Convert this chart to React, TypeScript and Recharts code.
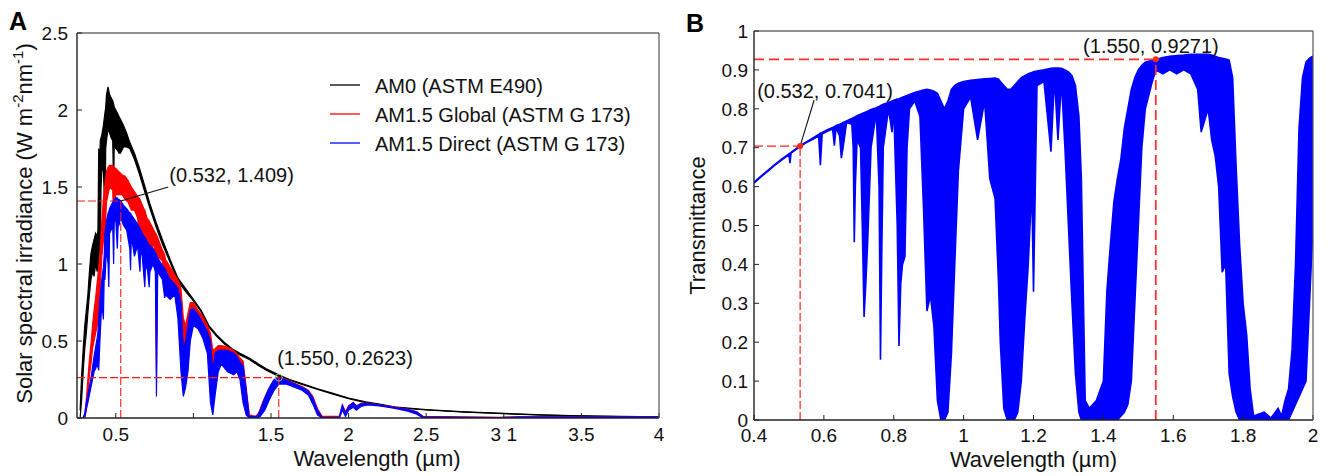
import React from 'react';
import {
  ComposedChart,
  Area,
  XAxis,
  YAxis,
  ReferenceLine,
  ReferenceDot,
  Legend,
} from 'recharts';

const FONT = '"Liberation Sans", Arial, Helvetica, sans-serif';

// ---------------- Panel A: solar spectra ----------------
const aXTicks = [0.5, 1, 1.5, 2, 2.5, 3, 3.5, 4];
const aXLabels = ['0.5', '', '1.5', '2', '2.5', '3 1', '3.5', '4'];
const aYTicks = [0, 0.5, 1, 1.5, 2, 2.5];
const aYLabels = ['0', '0.5', '1', '1.5', '2', '2.5'];

const am0Wl = [0.27, 0.28, 0.29, 0.3, 0.31, 0.32, 0.33, 0.34, 0.35, 0.36, 0.37, 0.38, 0.385, 0.39, 0.395, 0.4, 0.405, 0.41, 0.42, 0.43, 0.435, 0.44, 0.45, 0.46, 0.47, 0.48, 0.486, 0.49, 0.5, 0.51, 0.52, 0.53, 0.55, 0.57, 0.59, 0.62, 0.65, 0.68, 0.72, 0.76, 0.8, 0.85, 0.9, 0.95, 1.0, 1.05, 1.1, 1.15, 1.2, 1.25, 1.3, 1.36, 1.42, 1.47, 1.55, 1.62, 1.68, 1.8, 1.9, 2.0, 2.11, 2.2, 2.31, 2.5, 2.75, 3.0, 3.25, 3.5, 3.75, 4.0];
const am0Hi = [0.05, 0.28, 0.45, 0.6, 0.7, 0.8, 0.95, 1.07, 1.12, 1.16, 1.2, 1.18, 1.22, 1.75, 1.6, 1.8, 1.82, 1.84, 1.9, 1.98, 2.02, 2.1, 2.15, 2.1, 2.08, 2.06, 2.04, 2.02, 2.0, 1.98, 1.96, 1.94, 1.9, 1.85, 1.79, 1.72, 1.63, 1.53, 1.39, 1.27, 1.16, 1.03, 0.91, 0.84, 0.77, 0.7, 0.6, 0.54, 0.49, 0.45, 0.42, 0.39, 0.35, 0.32, 0.28, 0.25, 0.23, 0.19, 0.16, 0.13, 0.105, 0.09, 0.07, 0.055, 0.04, 0.03, 0.02, 0.014, 0.01, 0.008];
const am0Lo = [0, 0.12, 0.3, 0.45, 0.55, 0.68, 0.8, 0.9, 0.95, 0.92, 1.0, 0.95, 1.0, 0.95, 0.98, 1.1, 1.5, 1.6, 1.62, 1.3, 1.75, 1.8, 1.88, 1.85, 1.82, 1.8, 1.5, 1.78, 1.75, 1.74, 1.72, 1.72, 1.76, 1.76, 1.75, 1.68, 1.59, 1.49, 1.36, 1.24, 1.13, 1.01, 0.89, 0.82, 0.76, 0.69, 0.59, 0.53, 0.48, 0.44, 0.41, 0.38, 0.34, 0.31, 0.27, 0.245, 0.225, 0.185, 0.155, 0.125, 0.1, 0.087, 0.067, 0.052, 0.038, 0.028, 0.019, 0.013, 0.009, 0.007];

const globalWl = [0.3, 0.31, 0.32, 0.33, 0.34, 0.35, 0.36, 0.37, 0.38, 0.39, 0.4, 0.41, 0.42, 0.43, 0.44, 0.45, 0.46, 0.48, 0.486, 0.5, 0.52, 0.54, 0.56, 0.58, 0.6, 0.62, 0.64, 0.656, 0.66, 0.68, 0.687, 0.69, 0.7, 0.715, 0.72, 0.74, 0.755, 0.762, 0.77, 0.8, 0.815, 0.82, 0.85, 0.88, 0.9, 0.92, 0.935, 0.95, 0.965, 0.98, 1.0, 1.03, 1.06, 1.09, 1.11, 1.125, 1.14, 1.16, 1.18, 1.22, 1.26, 1.3, 1.32, 1.34, 1.36, 1.4, 1.42, 1.45, 1.48, 1.51, 1.55, 1.6, 1.65, 1.7, 1.74, 1.77, 1.8, 1.83, 1.94, 1.96, 1.98, 2.0, 2.03, 2.05, 2.08, 2.12, 2.2, 2.3, 2.38, 2.44, 2.48, 2.97, 3.1, 3.5, 4.0];
const globalHi = [0.01, 0.12, 0.25, 0.38, 0.48, 0.6, 0.7, 0.78, 0.88, 0.98, 1.1, 1.28, 1.42, 1.52, 1.6, 1.63, 1.64, 1.64, 1.63, 1.62, 1.6, 1.58, 1.57, 1.54, 1.5, 1.47, 1.44, 1.42, 1.41, 1.36, 1.35, 1.34, 1.3, 1.28, 1.27, 1.23, 1.2, 1.19, 1.17, 1.09, 1.06, 1.03, 0.98, 0.93, 0.9, 0.84, 0.65, 0.6, 0.68, 0.75, 0.75, 0.7, 0.66, 0.6, 0.55, 0.44, 0.45, 0.47, 0.47, 0.46, 0.44, 0.39, 0.37, 0.2, 0.02, 0.01, 0.03, 0.11, 0.18, 0.23, 0.265, 0.25, 0.225, 0.205, 0.18, 0.14, 0.06, 0.01, 0.01, 0.085, 0.04, 0.08, 0.1, 0.08, 0.095, 0.095, 0.085, 0.07, 0.058, 0.04, 0.01, 0.004, 0.008, 0.008, 0.008];
const globalLo = [0, 0.05, 0.15, 0.28, 0.35, 0.45, 0.5, 0.55, 0.6, 0.62, 0.85, 1.05, 1.15, 1.2, 1.4, 1.45, 1.5, 1.48, 1.3, 1.45, 1.45, 1.45, 1.42, 1.4, 1.35, 1.35, 1.3, 1.15, 1.2, 1.15, 0.9, 1.0, 1.2, 0.95, 1.0, 1.15, 1.05, 0.3, 1.05, 1.02, 0.85, 0.9, 0.85, 0.85, 0.75, 0.5, 0.45, 0.45, 0.5, 0.6, 0.65, 0.62, 0.6, 0.52, 0.35, 0.3, 0.38, 0.42, 0.42, 0.42, 0.4, 0.36, 0.25, 0.05, 0, 0, 0.01, 0.06, 0.13, 0.19, 0.24, 0.23, 0.21, 0.19, 0.16, 0.1, 0.02, 0, 0, 0.06, 0.02, 0.06, 0.08, 0.06, 0.08, 0.09, 0.08, 0.065, 0.05, 0.03, 0, 0, 0.003, 0.004, 0.005];

const directWl = [0.29, 0.3, 0.31, 0.32, 0.33, 0.34, 0.35, 0.36, 0.37, 0.38, 0.385, 0.39, 0.4, 0.41, 0.42, 0.425, 0.43, 0.44, 0.45, 0.455, 0.46, 0.47, 0.48, 0.486, 0.49, 0.5, 0.51, 0.515, 0.52, 0.532, 0.55, 0.57, 0.59, 0.595, 0.6, 0.62, 0.64, 0.656, 0.66, 0.67, 0.687, 0.69, 0.7, 0.715, 0.72, 0.74, 0.755, 0.762, 0.77, 0.8, 0.815, 0.82, 0.85, 0.88, 0.9, 0.92, 0.935, 0.95, 0.965, 0.98, 1.0, 1.03, 1.06, 1.09, 1.11, 1.125, 1.14, 1.16, 1.18, 1.22, 1.26, 1.28, 1.3, 1.32, 1.34, 1.36, 1.41, 1.43, 1.46, 1.49, 1.52, 1.55, 1.6, 1.65, 1.7, 1.74, 1.77, 1.8, 1.83, 1.94, 1.96, 1.98, 2.0, 2.03, 2.05, 2.08, 2.12, 2.2, 2.3, 2.38, 2.44, 2.48, 2.97, 3.1, 3.5, 4.0];
const directHi = [0.005, 0.03, 0.1, 0.15, 0.2, 0.26, 0.33, 0.4, 0.46, 0.52, 0.56, 0.65, 0.8, 0.9, 0.98, 1.05, 1.2, 1.28, 1.33, 1.34, 1.36, 1.38, 1.4, 1.41, 1.42, 1.43, 1.43, 1.42, 1.42, 1.41, 1.38, 1.36, 1.33, 1.33, 1.32, 1.29, 1.26, 1.23, 1.22, 1.2, 1.17, 1.17, 1.15, 1.12, 1.12, 1.1, 1.07, 1.06, 1.04, 0.99, 0.97, 0.96, 0.9, 0.87, 0.84, 0.75, 0.45, 0.5, 0.6, 0.7, 0.71, 0.67, 0.62, 0.56, 0.5, 0.3, 0.42, 0.44, 0.44, 0.44, 0.42, 0.4, 0.36, 0.34, 0.18, 0.01, 0.01, 0.05, 0.13, 0.2, 0.25, 0.262, 0.245, 0.222, 0.2, 0.175, 0.13, 0.05, 0.005, 0.005, 0.085, 0.03, 0.075, 0.1, 0.075, 0.092, 0.093, 0.084, 0.068, 0.056, 0.038, 0.008, 0.003, 0.007, 0.007, 0.007];
const directLo = [0, 0.01, 0.06, 0.1, 0.15, 0.2, 0.25, 0.3, 0.32, 0.35, 0.33, 0.31, 0.55, 0.75, 0.64, 0.9, 0.9, 1.1, 1.0, 0.85, 1.2, 1.22, 1.25, 1.0, 1.28, 1.28, 1.1, 1.25, 1.25, 1.3, 1.25, 1.22, 1.1, 0.96, 1.18, 1.05, 1.12, 0.95, 1.1, 1.05, 0.85, 0.95, 1.0, 0.85, 0.95, 1.0, 0.95, 0.14, 0.95, 0.9, 0.78, 0.8, 0.77, 0.8, 0.65, 0.3, 0.14, 0.2, 0.3, 0.5, 0.6, 0.58, 0.52, 0.42, 0.1, 0.02, 0.15, 0.3, 0.35, 0.3, 0.28, 0.3, 0.25, 0.1, 0.02, 0, 0, 0.01, 0.05, 0.12, 0.18, 0.22, 0.22, 0.2, 0.18, 0.15, 0.09, 0.02, 0, 0, 0.05, 0.01, 0.05, 0.07, 0.05, 0.075, 0.085, 0.078, 0.063, 0.045, 0.025, 0, 0, 0.002, 0.003, 0.004];

const legendLabels = ['AM0 (ASTM E490)', 'AM1.5 Global (ASTM G 173)', 'AM1.5 Direct (ASTM G 173)'];
const legendColors = ['#000000', '#ff0000', '#0000ff'];

// annotation points (data coordinates)
const aPoint1 = { x: 0.532, y: 1.409 };
const aPoint2 = { x: 1.55, y: 0.2623 };
const aText1 = { x: 0.845, y: 1.53, text: '(0.532, 1.409)' };
const aLeader1 = { x: 0.838, y: 1.5 };
const aText2 = { x: 1.54, y: 0.344, text: '(1.550, 0.2623)' };

// ---------------- Panel B: transmittance ----------------
const bXTicks = [0.4, 0.6, 0.8, 1, 1.2, 1.4, 1.6, 1.8, 2];
const bXLabels = ['0.4', '0.6', '0.8', '1', '1.2', '1.4', '1.6', '1.8', '2'];
const bYTicks = [0, 0.1, 0.2, 0.3, 0.4, 0.5, 0.6, 0.7, 0.8, 0.9, 1];
const bYLabels = ['0', '0.1', '0.2', '0.3', '0.4', '0.5', '0.6', '0.7', '0.8', '0.9', '1'];

const transWl = [0.4, 0.42, 0.44, 0.46, 0.48, 0.5, 0.503, 0.506, 0.532, 0.55, 0.57, 0.585, 0.59, 0.595, 0.61, 0.625, 0.63, 0.635, 0.645, 0.65, 0.655, 0.665, 0.68, 0.684, 0.687, 0.69, 0.695, 0.705, 0.71, 0.715, 0.72, 0.725, 0.735, 0.75, 0.758, 0.762, 0.766, 0.77, 0.785, 0.795, 0.8, 0.81, 0.815, 0.82, 0.825, 0.832, 0.838, 0.845, 0.86, 0.875, 0.885, 0.895, 0.905, 0.915, 0.925, 0.935, 0.945, 0.955, 0.965, 0.975, 0.985, 1.0, 1.02, 1.04, 1.06, 1.075, 1.09, 1.1, 1.105, 1.115, 1.125, 1.135, 1.145, 1.155, 1.165, 1.175, 1.185, 1.195, 1.2, 1.21, 1.23, 1.25, 1.26, 1.27, 1.28, 1.29, 1.3, 1.31, 1.32, 1.33, 1.337, 1.343, 1.348, 1.36, 1.38, 1.4, 1.41, 1.42, 1.43, 1.44, 1.45, 1.46, 1.47, 1.48, 1.49, 1.5, 1.51, 1.52, 1.54, 1.55, 1.57, 1.59, 1.61, 1.63, 1.65, 1.67, 1.68, 1.7, 1.71, 1.72, 1.73, 1.74, 1.75, 1.76, 1.77, 1.78, 1.79, 1.8, 1.81, 1.82, 1.83, 1.86, 1.88, 1.9, 1.91, 1.92, 1.93, 1.94, 1.95, 1.96, 1.97, 1.98, 1.99, 2.0];
const transHi = [0.611, 0.627, 0.642, 0.657, 0.671, 0.684, 0.686, 0.688, 0.705, 0.715, 0.726, 0.734, 0.737, 0.739, 0.746, 0.752, 0.754, 0.757, 0.76, 0.762, 0.765, 0.769, 0.775, 0.777, 0.778, 0.78, 0.782, 0.786, 0.788, 0.79, 0.792, 0.794, 0.798, 0.803, 0.806, 0.808, 0.81, 0.812, 0.816, 0.82, 0.822, 0.825, 0.826, 0.828, 0.83, 0.832, 0.834, 0.837, 0.842, 0.846, 0.848, 0.85, 0.848, 0.845, 0.84, 0.82, 0.8, 0.82, 0.85, 0.86, 0.866, 0.87, 0.873, 0.875, 0.877, 0.878, 0.879, 0.876, 0.87, 0.86, 0.85, 0.85, 0.86, 0.87, 0.88, 0.885, 0.89, 0.893, 0.895, 0.897, 0.9, 0.904, 0.905, 0.905, 0.904, 0.9, 0.895, 0.885, 0.86, 0.78, 0.62, 0.3, 0.05, 0.03, 0.05, 0.1, 0.33, 0.45, 0.56, 0.62, 0.67, 0.75, 0.8, 0.85, 0.88, 0.9, 0.912, 0.92, 0.925, 0.927, 0.932, 0.935, 0.937, 0.938, 0.94, 0.94, 0.94, 0.94, 0.938, 0.935, 0.932, 0.93, 0.928, 0.925, 0.88, 0.65, 0.45, 0.3, 0.22, 0.08, 0.01, 0.02, 0.005, 0.03, 0.01, 0.05, 0.08, 0.18, 0.4, 0.75, 0.88, 0.92, 0.93, 0.935];
const transLo = [0.609, 0.625, 0.64, 0.655, 0.669, 0.682, 0.66, 0.686, 0.703, 0.713, 0.722, 0.73, 0.655, 0.735, 0.742, 0.748, 0.705, 0.752, 0.73, 0.673, 0.7, 0.765, 0.76, 0.7, 0.457, 0.6, 0.72, 0.7, 0.5, 0.265, 0.35, 0.45, 0.7, 0.79, 0.6, 0.155, 0.45, 0.7, 0.8, 0.74, 0.8, 0.5, 0.19, 0.35, 0.4, 0.42, 0.7, 0.8, 0.82, 0.78, 0.55, 0.28, 0.32, 0.24, 0.05, 0, 0, 0.02, 0.17, 0.41, 0.64, 0.8, 0.83, 0.72, 0.82, 0.62, 0.57, 0.35, 0.2, 0.03, 0, 0, 0, 0.02, 0.1, 0.26, 0.4, 0.6, 0.33, 0.86, 0.87, 0.69, 0.88, 0.72, 0.87, 0.7, 0.5, 0.3, 0.12, 0.02, 0, 0, 0, 0, 0, 0, 0, 0, 0, 0, 0.01, 0.02, 0.04, 0.1, 0.3, 0.5, 0.7, 0.8, 0.87, 0.9, 0.89, 0.9, 0.89, 0.9, 0.89, 0.85, 0.74, 0.8, 0.72, 0.68, 0.6, 0.38, 0.4, 0.12, 0.06, 0.02, 0, 0, 0, 0, 0, 0, 0, 0, 0, 0, 0, 0.02, 0.04, 0.06, 0.08, 0.1, 0.3, 0.5];

const bPoint1 = { x: 0.532, y: 0.7041 };
const bPoint2 = { x: 1.55, y: 0.9271 };
const bText1 = { x: 0.409, y: 0.828, text: '(0.532, 0.7041)' };
const bLeader1 = { x: 0.572, y: 0.822 };
const bText2 = { x: 1.342, y: 0.943, text: '(1.550, 0.9271)' };

// ---------------- helpers ----------------
type Row = { x: number; lo: number; hi: number };
const zip = (wl: number[], lo: number[], hi: number[]): Row[] =>
  wl.map((x, i) => ({ x, lo: lo[i], hi: hi[i] }));
const range = (d: Row) => [d.lo, d.hi];

const am0Data = zip(am0Wl, am0Lo, am0Hi);
const globalData = zip(globalWl, globalLo, globalHi);
const directData = zip(directWl, directLo, directHi);
const transData = zip(transWl, transLo, transHi);

const labelOf = (ticks: number[], labels: string[]) => (v: number) => {
  const i = ticks.findIndex((t) => Math.abs(t - v) < 1e-9);
  return i >= 0 ? labels[i] : '';
};

const AXIS = '#222';
const tickStyle = { fontSize: 19, fill: '#111', fontFamily: FONT };

const textShape = (text: string, size = 20) => (p: any) => (
  <text x={p.cx} y={p.cy} fontSize={size} fontFamily={FONT} fill="#111" textAnchor="start">
    {text}
  </text>
);

const LegendBox = () => (
  <svg width={330} height={90} style={{ overflow: 'visible' }}>
    {legendLabels.map((t, i) => {
      const ly = 15 + i * 29;
      return (
        <g key={t}>
          <line x1={5} x2={35} y1={ly} y2={ly} stroke={legendColors[i]} strokeWidth={1.3} />
          <text x={50} y={ly + 8} fontSize={20} fontFamily={FONT} fill="#111">
            {t}
          </text>
        </g>
      );
    })}
  </svg>
);

function PanelA() {
  return (
    <ComposedChart
      width={680}
      height={476}
      margin={{ top: 32, right: 20, bottom: 28, left: 37 }}
    >
      <XAxis
        xAxisId="b"
        dataKey="x"
        type="number"
        domain={[0.25, 4]}
        ticks={aXTicks}
        interval={0}
        allowDataOverflow
        height={30}
        tickSize={-5}
        tickMargin={15}
        tick={tickStyle}
        tickFormatter={labelOf(aXTicks, aXLabels)}
        axisLine={{ stroke: AXIS, strokeWidth: 1.4 }}
        tickLine={{ stroke: AXIS }}
        label={(p: any) => {
          const vb = p.viewBox;
          return (
            <text x={vb.x + vb.width / 2 + 9} y={vb.y + 48} textAnchor="middle" fontSize={22} fontFamily={FONT} fill="#111">
              Wavelength (µm)
            </text>
          );
        }}
      />
      <XAxis
        xAxisId="t"
        orientation="top"
        dataKey="x"
        type="number"
        domain={[0.25, 4]}
        ticks={aXTicks}
        interval={0}
        allowDataOverflow
        height={1}
        tickSize={-5}
        tick={false}
        axisLine={{ stroke: AXIS, strokeWidth: 1.2 }}
        tickLine={{ stroke: AXIS }}
      />
      <YAxis
        yAxisId="l"
        type="number"
        domain={[0, 2.5]}
        ticks={aYTicks}
        interval={0}
        allowDataOverflow
        width={40}
        tickSize={-5}
        tickMargin={14}
        tick={tickStyle}
        tickFormatter={labelOf(aYTicks, aYLabels)}
        axisLine={{ stroke: AXIS, strokeWidth: 1.4 }}
        tickLine={{ stroke: AXIS }}
        label={(p: any) => {
          const vb = p.viewBox;
          const cx = vb.x - 5;
          const cy = vb.y + vb.height / 2 - 2;
          return (
            <g>
              <text x={9} y={30} fontSize={25} fontWeight="bold" fontFamily={FONT} fill="#000">
                A
              </text>
              <text
                x={cx}
                y={cy}
                transform={`rotate(-90, ${cx}, ${cy})`}
                textAnchor="middle"
                fontSize={22}
                fontFamily={FONT}
                fill="#111"
              >
                Solar spectral irradiance (W m
                <tspan dy={-9} fontSize={15}>-2</tspan>
                <tspan dy={9}>nm</tspan>
                <tspan dy={-9} fontSize={15}>-1</tspan>
                <tspan dy={9}>)</tspan>
              </text>
            </g>
          );
        }}
      />
      <YAxis
        yAxisId="r"
        orientation="right"
        type="number"
        domain={[0, 2.5]}
        ticks={aYTicks}
        interval={0}
        allowDataOverflow
        width={1}
        tickSize={-5}
        tick={false}
        axisLine={{ stroke: '#555', strokeWidth: 1.2 }}
        tickLine={{ stroke: '#555' }}
      />

      <Area data={am0Data} dataKey={range} xAxisId="b" yAxisId="l" type="linear" stroke="#000" fill="#000" fillOpacity={1} strokeWidth={1.2} dot={false} activeDot={false} isAnimationActive={false} />
      <Area data={globalData} dataKey={range} xAxisId="b" yAxisId="l" type="linear" stroke="#ff0000" fill="#ff0000" fillOpacity={1} strokeWidth={1.2} dot={false} activeDot={false} isAnimationActive={false} />
      <Area data={directData} dataKey={range} xAxisId="b" yAxisId="l" type="linear" stroke="#0000ff" fill="#0000ff" fillOpacity={1} strokeWidth={1.2} dot={false} activeDot={false} isAnimationActive={false} />

      <ReferenceLine xAxisId="b" yAxisId="l" segment={[{ x: 0.25, y: aPoint1.y }, { x: aPoint1.x, y: aPoint1.y }]} stroke="#ff1a1a" strokeDasharray="8 3" strokeWidth={1.1} />
      <ReferenceLine xAxisId="b" yAxisId="l" segment={[{ x: aPoint1.x, y: 0 }, { x: aPoint1.x, y: aPoint1.y }]} stroke="#ff1a1a" strokeDasharray="8 3" strokeWidth={1.1} />
      <ReferenceLine xAxisId="b" yAxisId="l" segment={[{ x: 0.25, y: aPoint2.y }, { x: aPoint2.x, y: aPoint2.y }]} stroke="#ff1a1a" strokeDasharray="8 3" strokeWidth={1.1} />
      <ReferenceLine xAxisId="b" yAxisId="l" segment={[{ x: aPoint2.x, y: 0 }, { x: aPoint2.x, y: aPoint2.y }]} stroke="#ff1a1a" strokeDasharray="8 3" strokeWidth={1.1} />
      <ReferenceLine xAxisId="b" yAxisId="l" segment={[{ x: aPoint1.x, y: aPoint1.y }, { x: aLeader1.x, y: aLeader1.y }]} stroke="#111" strokeWidth={1.1} />
      <ReferenceDot xAxisId="b" yAxisId="l" x={aPoint2.x} y={aPoint2.y} r={3.5} fill="none" stroke="#8fcf6f" strokeWidth={1} />
      <ReferenceDot xAxisId="b" yAxisId="l" x={aText1.x} y={aText1.y} r={0} shape={textShape(aText1.text)} />
      <ReferenceDot xAxisId="b" yAxisId="l" x={aText2.x} y={aText2.y} r={0} shape={textShape(aText2.text)} />

      <Legend
        layout="horizontal"
        verticalAlign="middle"
        align="center"
        content={() => <LegendBox />}
        wrapperStyle={{ position: 'absolute', left: 325, top: 70, width: 330, height: 90 }}
      />
    </ComposedChart>
  );
}

function PanelB() {
  return (
    <ComposedChart
      width={651}
      height={476}
      margin={{ top: 30, right: 17, bottom: 26, left: 29 }}
    >
      <XAxis
        xAxisId="b"
        dataKey="x"
        type="number"
        domain={[0.4, 2]}
        ticks={bXTicks}
        interval={0}
        allowDataOverflow
        height={30}
        tickSize={-5}
        tickMargin={14}
        tick={tickStyle}
        tickFormatter={labelOf(bXTicks, bXLabels)}
        axisLine={{ stroke: AXIS, strokeWidth: 1.4 }}
        tickLine={{ stroke: AXIS }}
        label={(p: any) => {
          const vb = p.viewBox;
          return (
            <text x={vb.x + vb.width / 2} y={vb.y + 47} textAnchor="middle" fontSize={22} fontFamily={FONT} fill="#111">
              Wavelength (µm)
            </text>
          );
        }}
      />
      <XAxis
        xAxisId="t"
        orientation="top"
        dataKey="x"
        type="number"
        domain={[0.4, 2]}
        ticks={bXTicks}
        interval={0}
        allowDataOverflow
        height={1}
        tickSize={-5}
        tick={false}
        axisLine={{ stroke: AXIS, strokeWidth: 1.2 }}
        tickLine={{ stroke: AXIS }}
      />
      <YAxis
        yAxisId="l"
        type="number"
        domain={[0, 1]}
        ticks={bYTicks}
        interval={0}
        allowDataOverflow
        width={45}
        tickSize={-5}
        tickMargin={11}
        tick={tickStyle}
        tickFormatter={labelOf(bYTicks, bYLabels)}
        axisLine={{ stroke: AXIS, strokeWidth: 1.4 }}
        tickLine={{ stroke: AXIS }}
        label={(p: any) => {
          const vb = p.viewBox;
          const cx = vb.x - 4;
          const cy = vb.y + vb.height / 2;
          return (
            <g>
              <text x={6} y={32} fontSize={25} fontWeight="bold" fontFamily={FONT} fill="#000">
                B
              </text>
              <text
                x={cx}
                y={cy}
                transform={`rotate(-90, ${cx}, ${cy})`}
                textAnchor="middle"
                fontSize={22}
                fontFamily={FONT}
                fill="#111"
              >
                Transmittance
              </text>
            </g>
          );
        }}
      />
      <YAxis
        yAxisId="r"
        orientation="right"
        type="number"
        domain={[0, 1]}
        ticks={bYTicks}
        interval={0}
        allowDataOverflow
        width={1}
        tickSize={-5}
        tick={false}
        axisLine={{ stroke: '#555', strokeWidth: 1.2 }}
        tickLine={{ stroke: '#555' }}
      />

      <Area data={transData} dataKey={range} xAxisId="b" yAxisId="l" type="linear" stroke="#0000ff" fill="#0000ff" fillOpacity={1} strokeWidth={1.6} dot={false} activeDot={false} isAnimationActive={false} />

      <ReferenceLine xAxisId="b" yAxisId="l" segment={[{ x: 0.4, y: bPoint1.y }, { x: bPoint1.x, y: bPoint1.y }]} stroke="#ff2020" strokeDasharray="9 4" strokeWidth={1.4} />
      <ReferenceLine xAxisId="b" yAxisId="l" segment={[{ x: bPoint1.x, y: 0 }, { x: bPoint1.x, y: bPoint1.y }]} stroke="#ff2020" strokeDasharray="8 3" strokeWidth={1.2} />
      <ReferenceLine xAxisId="b" yAxisId="l" segment={[{ x: 0.4, y: bPoint2.y }, { x: bPoint2.x, y: bPoint2.y }]} stroke="#ff3030" strokeDasharray="10 5" strokeWidth={1.8} />
      <ReferenceLine xAxisId="b" yAxisId="l" segment={[{ x: bPoint2.x, y: 0 }, { x: bPoint2.x, y: bPoint2.y }]} stroke="#ff3030" strokeDasharray="10 5" strokeWidth={1.8} />
      <ReferenceLine xAxisId="b" yAxisId="l" segment={[{ x: bPoint1.x, y: bPoint1.y }, { x: bLeader1.x, y: bLeader1.y }]} stroke="#111" strokeWidth={1.1} />
      <ReferenceDot xAxisId="b" yAxisId="l" x={bPoint1.x} y={bPoint1.y} r={3} fill="#ff2a00" stroke="none" />
      <ReferenceDot xAxisId="b" yAxisId="l" x={bPoint2.x} y={bPoint2.y} r={3} fill="#ff2a00" stroke="none" />
      <ReferenceDot xAxisId="b" yAxisId="l" x={bText1.x} y={bText1.y} r={0} shape={textShape(bText1.text)} />
      <ReferenceDot xAxisId="b" yAxisId="l" x={bText2.x} y={bText2.y} r={0} shape={textShape(bText2.text)} />
    </ComposedChart>
  );
}

export default function App() {
  return (
    <div style={{ position: 'absolute', left: 0, top: 0, width: 1331, height: 476, background: '#fff', fontFamily: FONT }}>
      <div style={{ position: 'absolute', left: 0, top: 0 }}>
        <PanelA />
      </div>
      <div style={{ position: 'absolute', left: 680, top: 0 }}>
        <PanelB />
      </div>
    </div>
  );
}
